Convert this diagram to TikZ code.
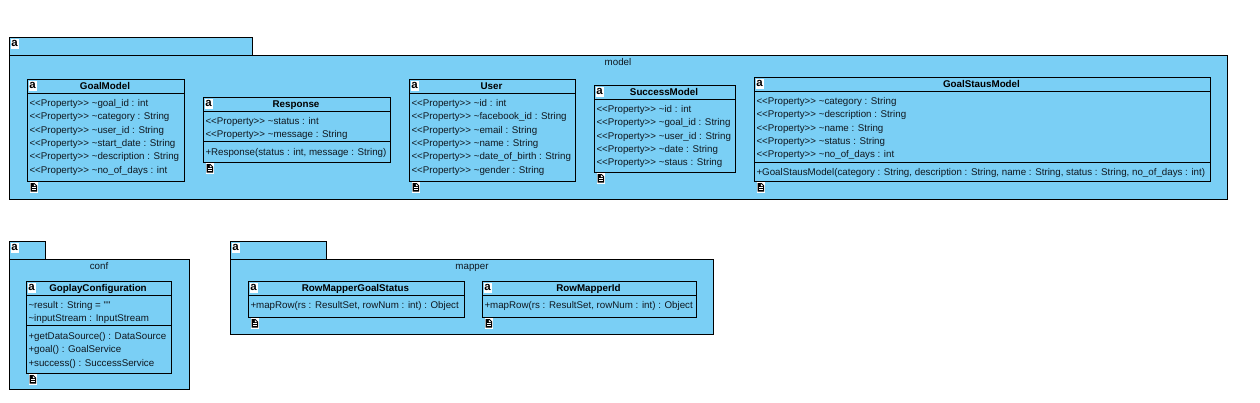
\documentclass[tikz,border=0pt]{standalone}
\usepackage{fontspec}
\newfontfamily\umlfont{Liberation Sans}
\definecolor{pkgblue}{HTML}{7ACFF5}
\definecolor{umltext}{HTML}{101820}
\tikzset{
  pkgbox/.style={draw=black,line width=1pt,fill=pkgblue,inner sep=0pt,outer sep=0pt,anchor=north west},
  rowtext/.style={inner sep=0pt,outer sep=0pt,anchor=base west,text=umltext,font=\umlfont\fontsize{9.75}{12}\selectfont},
  titletext/.style={inner sep=0pt,outer sep=0pt,anchor=base,text=black,font=\umlfont\bfseries\fontsize{9.8}{12}\selectfont},
  pkgtext/.style={inner sep=0pt,outer sep=0pt,anchor=base,text=umltext,font=\umlfont\fontsize{9.75}{12}\selectfont},
  aicon/.style={fill=white,inner sep=0pt,outer sep=0pt,anchor=north west,minimum width=8pt,minimum height=10pt,text=black,font=\umlfont\bfseries\fontsize{11.5}{10}\selectfont},
  divider/.style={line width=1pt,draw=black},
}
\newcommand\umlprop{<<Property>> \textasciitilde}
% name, x1, y1, x2, y2: a box with no icon
\newcommand\umlplain[5]{%
  \node[pkgbox,minimum width={(#4-#2)*1pt},minimum height={(#5-#3)*1pt}] (#1) at (#2,#3) {};
}
% the same with the small "a" icon
\newcommand\umlbox[5]{%
  \umlplain{#1}{#2}{#3}{#4}{#5}
  \node[aicon] (#1-a) at (#2+1,#3+1) {a};
}
% name, title
\newcommand\umltitle[2]{%
  \path (#1.north) ++(-1,10) node[titletext] (#1-t) {#2};
}
% name, suffix, y of dividing line
\newcommand\umlline[3]{%
  \coordinate (#1-#2l) at (#1.west|-0,#3);
  \coordinate (#1-#2r) at (#1.east|-0,#3);
  \draw[divider] (#1-#2l) -- (#1-#2r);
}
% name, suffix, first baseline, list
\newcommand\umlrows[4]{%
  \foreach \t [count=\i] in {#4} {
    \path (#1.west|-0,{#3+(\i-1)*13.4}) ++(2,0) node[rowtext] (#1-#2\i) {\t};
  }
}
% name: document icon under the lower left corner
\newcommand\umldoc[1]{%
  \path (#1.south west) ++(2,0.5) coordinate (#1-d);
  \node[fill=white,inner sep=0pt,outer sep=0pt,anchor=north west,minimum width=8.5pt,minimum height=10.5pt] (#1-doc) at (#1-d) {};
  \fill[black] (#1-d) ++(1,1) -- ++(4,0) -- ++(2.5,2.5) -- ++(0,6) -- ++(-6.5,0) -- cycle;
  \fill[white] (#1-d) ++(4.3,1.8) -- ++(2.2,2.2) -- ++(-2.2,0) -- cycle;
  \fill[white] (#1-d) ++(2,5.4) rectangle ++(4.5,.8);
  \fill[white] (#1-d) ++(2,7.4) rectangle ++(4.5,.8);
}
\begin{document}
\begin{tikzpicture}[x=1pt,y=-1pt]
\useasboundingbox (0,0) rectangle (1260,402);
\fill[white] (0,0) rectangle (1260,402);

% ---- model
\umlbox{modeltab}{9.5}{37.5}{252.5}{55.5}
\umlplain{model}{9.5}{55.5}{1227.5}{199.5}
\node[pkgtext] (modellabel) at (618,65) {model};

\umlbox{goal}{27.5}{79.5}{184.5}{181.5}
\umltitle{goal}{GoalModel}
\umlline{goal}{h}{93.5}
\umlrows{goal}{p}{106.2}{{\umlprop goal\_id : int},{\umlprop category : String},{\umlprop user\_id : String},{\umlprop start\_date : String},{\umlprop description : String},{\umlprop no\_of\_days : int}}
\umldoc{goal}

\umlbox{resp}{203.5}{97.5}{390.5}{162.5}
\umltitle{resp}{Response}
\umlline{resp}{h}{111.5}
\umlline{resp}{s}{141.5}
\umlrows{resp}{p}{124.2}{{\umlprop status : int},{\umlprop message : String}}
\umlrows{resp}{m}{155.2}{{+Response(status : int, message : String)}}
\umldoc{resp}

\umlbox{user}{409.5}{79.5}{575.5}{181.5}
\umltitle{user}{User}
\umlline{user}{h}{93.5}
\umlrows{user}{p}{106.2}{{\umlprop id : int},{\umlprop facebook\_id : String},{\umlprop email : String},{\umlprop name : String},{\umlprop date\_of\_birth : String},{\umlprop gender : String}}
\umldoc{user}

\umlbox{succ}{594.5}{85.5}{735.5}{172.5}
\umltitle{succ}{SuccessModel}
\umlline{succ}{h}{99.5}
\umlrows{succ}{p}{112.2}{{\umlprop id : int},{\umlprop goal\_id : String},{\umlprop user\_id : String},{\umlprop date : String},{\umlprop staus : String}}
\umldoc{succ}

\umlbox{stat}{754.5}{77.5}{1210.5}{181.5}
\umltitle{stat}{GoalStausModel}
\umlline{stat}{h}{91.5}
\umlline{stat}{s}{162.5}
\umlrows{stat}{p}{104.2}{{\umlprop category : String},{\umlprop description : String},{\umlprop name : String},{\umlprop status : String},{\umlprop no\_of\_days : int}}
\umlrows{stat}{m}{175.2}{{+GoalStausModel(category : String, description : String, name : String, status : String, no\_of\_days : int)}}
\umldoc{stat}

% ---- conf
\umlbox{conftab}{9.5}{241.5}{45.5}{259.5}
\umlplain{conf}{9.5}{259.5}{189.5}{389.5}
\node[pkgtext] (conflabel) at (99,269) {conf};

\umlbox{gopl}{26.5}{281.5}{171.5}{373.5}
\umltitle{gopl}{GoplayConfiguration}
\umlline{gopl}{h}{295.5}
\umlline{gopl}{s}{325.5}
\umlrows{gopl}{p}{308.2}{{\textasciitilde result : String = ""},{\textasciitilde inputStream : InputStream}}
\umlrows{gopl}{m}{339.2}{{+getDataSource() : DataSource},{+goal() : GoalService},{+success() : SuccessService}}
\umldoc{gopl}

% ---- mapper
\umlbox{maptab}{230.5}{241.5}{326.5}{259.5}
\umlplain{mapper}{230.5}{259.5}{713.5}{334.5}
\node[pkgtext] (maplabel) at (472,269) {mapper};

\umlbox{rmgs}{248.5}{281.5}{464.5}{317.5}
\umltitle{rmgs}{RowMapperGoalStatus}
\umlline{rmgs}{h}{295.5}
\umlrows{rmgs}{m}{308.2}{{+mapRow(rs : ResultSet, rowNum : int) : Object}}
\umldoc{rmgs}

\umlbox{rmid}{482.5}{281.5}{696.5}{317.5}
\umltitle{rmid}{RowMapperId}
\umlline{rmid}{h}{295.5}
\umlrows{rmid}{m}{308.2}{{+mapRow(rs : ResultSet, rowNum : int) : Object}}
\umldoc{rmid}
\end{tikzpicture}
\end{document}
